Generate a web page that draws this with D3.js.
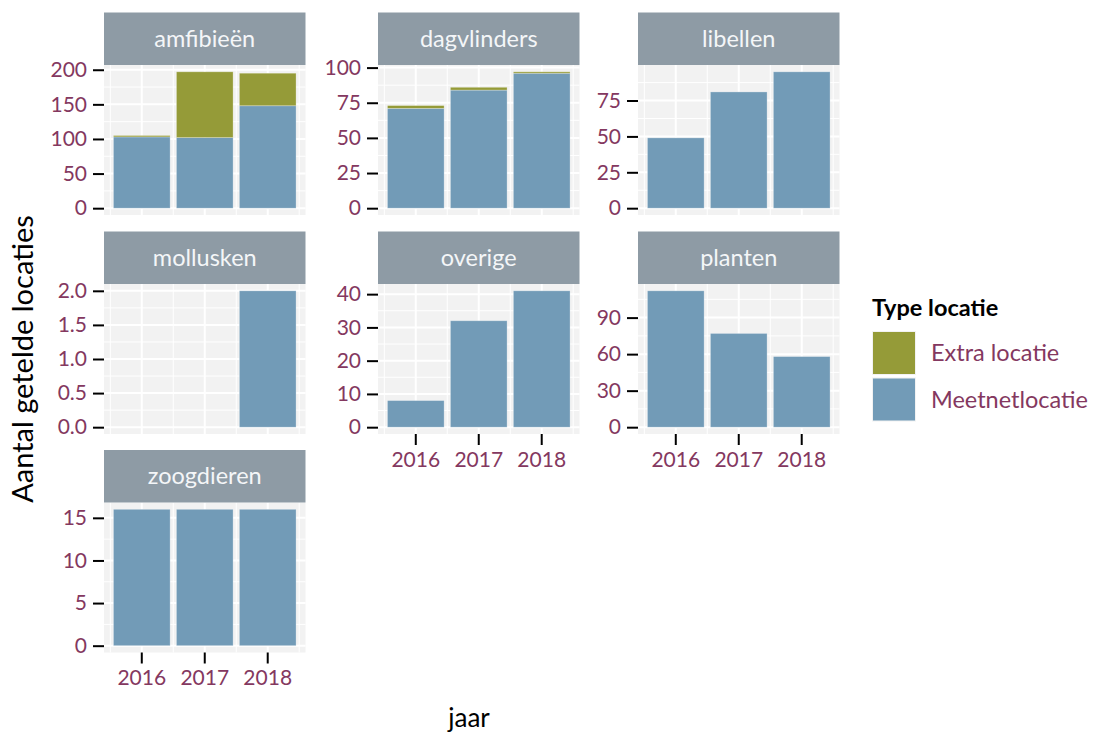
<!DOCTYPE html>
<html>
<head>
<meta charset="utf-8">
<script src="https://cdn.jsdelivr.net/npm/d3@7"></script>
<style>
  html, body { margin: 0; padding: 0; background: #ffffff; }
  svg { display: block; font-family: Lato, "Open Sans", sans-serif; }
</style>
</head>
<body>
<svg id="chart" width="1094" height="733"></svg>
<script>
// ---- data ----
const categories = ["amfibieën", "dagvlinders", "libellen", "mollusken", "overige", "planten", "zoogdieren"];
const years = ["2016", "2017", "2018"];
const seriesKeys = ["Meetnetlocatie", "Extra locatie"];
const meetnetValues = [
  [103, 102, 148],
  [71, 84, 96],
  [49, 81, 95],
  [0, 0, 2],
  [8, 32, 41],
  [112, 77, 58],
  [16, 16, 16]
];
const extraValues = [
  [2, 95, 47],
  [2, 2, 1],
  [0, 0, 0],
  [0, 0, 0],
  [0, 0, 0],
  [0, 0, 0],
  [0, 0, 0]
];
const yTickValues = [
  [0, 50, 100, 150, 200],
  [0, 25, 50, 75, 100],
  [0, 25, 50, 75],
  [0, 0.5, 1.0, 1.5, 2.0],
  [0, 10, 20, 30, 40],
  [0, 30, 60, 90],
  [0, 5, 10, 15]
];
const yTickFormats = ["d", "d", "d", ".1f", "d", "d", "d"];
const legendTitle = "Type locatie";
const legendOrder = ["Extra locatie", "Meetnetlocatie"];
const xTitle = "jaar";
const yTitle = "Aantal getelde locaties";

// ---- styling / layout ----
const colors = { "Meetnetlocatie": "#729BB7", "Extra locatie": "#959B38" };
const textColor = "#843860";
const stripFill = "#8E9BA5";
const panelFill = "#F2F2F2";
const colLeft = [104, 378, 638];
const rowTop = [12.5, 231.5, 450];
const panelW = 201.5;
const stripH = 52.5;
const panelH = 150;
const nCols = 3;
const tickFont = 21;

const svg = d3.select("#chart");
const color = d3.scaleOrdinal().domain(seriesKeys).range(seriesKeys.map(k => colors[k]));

categories.forEach((cat, ci) => {
  const col = ci % nCols, row = Math.floor(ci / nCols);
  const x0 = colLeft[col], y0 = rowTop[row] + stripH;
  const g = svg.append("g").attr("transform", `translate(${x0},${y0})`);

  const rows = years.map((yr, i) => ({ year: yr, "Meetnetlocatie": meetnetValues[ci][i], "Extra locatie": extraValues[ci][i] }));
  const stacked = d3.stack().keys(seriesKeys)(rows);
  const maxTotal = d3.max(rows, d => d["Meetnetlocatie"] + d["Extra locatie"]);
  const y = d3.scaleLinear().domain([-0.05 * maxTotal, 1.05 * maxTotal]).range([panelH, 0]);
  const x = d3.scaleBand().domain(years).range([0, panelW]).paddingInner(0.1).paddingOuter(0.15);

  // panel background
  g.append("rect").attr("width", panelW).attr("height", panelH).attr("fill", panelFill);

  // grid
  const ticks = yTickValues[ci];
  const step = ticks[1] - ticks[0];
  const [dmin, dmax] = y.domain();
  const minors = [];
  for (let v = ticks[0] - step / 2; v <= dmax; v += step) if (v >= dmin) minors.push(v);
  g.selectAll(".yminor").data(minors).join("line")
    .attr("x1", 0).attr("x2", panelW).attr("y1", d => y(d)).attr("y2", d => y(d))
    .attr("stroke", "#ffffff").attr("stroke-width", 1);
  g.selectAll(".ymajor").data(ticks).join("line")
    .attr("x1", 0).attr("x2", panelW).attr("y1", d => y(d)).attr("y2", d => y(d))
    .attr("stroke", "#ffffff").attr("stroke-width", 2);
  const bw = x.step();
  const xMinor = years.map(yr => x(yr) + x.bandwidth() / 2 - bw / 2).concat([x(years[years.length - 1]) + x.bandwidth() / 2 + bw / 2]);
  g.selectAll(".xminor").data(xMinor).join("line")
    .attr("x1", d => d).attr("x2", d => d).attr("y1", 0).attr("y2", panelH)
    .attr("stroke", "#ffffff").attr("stroke-width", 1);
  g.selectAll(".xmajor").data(years).join("line")
    .attr("x1", d => x(d) + x.bandwidth() / 2).attr("x2", d => x(d) + x.bandwidth() / 2)
    .attr("y1", 0).attr("y2", panelH)
    .attr("stroke", "#ffffff").attr("stroke-width", 2);

  // bars
  g.selectAll(".layer").data(stacked).join("g")
    .attr("fill", d => color(d.key))
    .selectAll("rect").data(d => d.filter(s => s[1] - s[0] > 0)).join("rect")
    .attr("x", d => x(d.data.year))
    .attr("width", x.bandwidth())
    .attr("y", d => y(d[1]))
    .attr("height", d => y(d[0]) - y(d[1]))
    .attr("stroke", "rgba(255,255,255,0.35)")
    .attr("stroke-width", 0.8);

  // y axis
  const yAxis = d3.axisLeft(y).tickValues(ticks).tickFormat(d3.format(yTickFormats[ci])).tickSizeInner(11).tickSizeOuter(0).tickPadding(6);
  const ya = g.append("g").call(yAxis);
  ya.select(".domain").remove();
  ya.selectAll(".tick line").attr("stroke", "#000").attr("stroke-width", 2);
  ya.selectAll(".tick text").attr("fill", textColor).attr("font-size", tickFont).attr("font-family", "Lato, sans-serif");

  // x axis for bottom panel of each column
  const isBottom = (ci + nCols >= categories.length);
  if (isBottom) {
    const xAxis = d3.axisBottom(x).tickSizeInner(11).tickSizeOuter(0).tickPadding(7);
    const xa = g.append("g").attr("transform", `translate(0,${panelH})`).call(xAxis);
    xa.select(".domain").remove();
    xa.selectAll(".tick line").attr("stroke", "#000").attr("stroke-width", 2);
    xa.selectAll(".tick text").attr("fill", textColor).attr("font-size", tickFont).attr("font-family", "Lato, sans-serif");
  }

  // strip
  svg.append("rect").attr("x", x0).attr("y", rowTop[row]).attr("width", panelW).attr("height", stripH)
    .attr("fill", stripFill);
  svg.append("text").attr("x", x0 + panelW / 2).attr("y", rowTop[row] + stripH / 2 + 8)
    .attr("text-anchor", "middle").attr("fill", "#F4F6F8").attr("font-size", 23.5)
    .text(cat);
});

// axis titles
svg.append("text").attr("x", 469).attr("y", 727).attr("text-anchor", "middle")
  .attr("font-size", 26).attr("fill", "#000").text(xTitle);
svg.append("text").attr("transform", "translate(33,359) rotate(-90)").attr("text-anchor", "middle")
  .attr("font-size", 29).attr("fill", "#000").text(yTitle);

// legend
const leg = svg.append("g").attr("transform", "translate(872,300)");
leg.append("text").attr("x", 0).attr("y", 16).attr("font-size", 23.5).attr("font-weight", "bold")
  .attr("fill", "#000").text(legendTitle);
legendOrder.forEach((k, i) => {
  const ky = 31 + i * 46.5;
  leg.append("rect").attr("x", 0).attr("y", ky).attr("width", 44).attr("height", 44)
    .attr("fill", "#F2F2F2");
  leg.append("rect").attr("x", 1).attr("y", ky + 1).attr("width", 42).attr("height", 42)
    .attr("fill", color(k));
  leg.append("text").attr("x", 59).attr("y", ky + 22 + 8).attr("font-size", 23.5)
    .attr("fill", textColor).text(k);
});
</script>
</body>
</html>
